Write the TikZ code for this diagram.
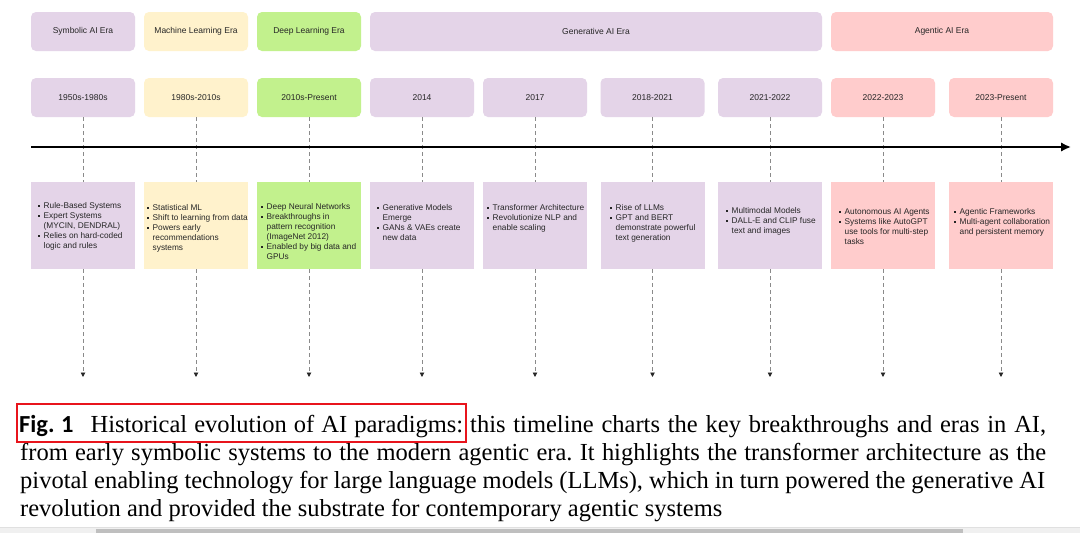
\documentclass[tikz,border=0pt]{standalone}
\usepackage{fontspec}
\setmainfont{Liberation Serif}
\setsansfont{Liberation Sans}
\newfontfamily\capsans{Carlito}
\usetikzlibrary{arrows.meta}
\frenchspacing
\definecolor{cpur}{HTML}{E4D4E8}
\definecolor{cyel}{HTML}{FFF2CC}
\definecolor{cgrn}{HTML}{C2F18D}
\definecolor{cpnk}{HTML}{FFCCCC}
\definecolor{txt}{HTML}{262626}
\definecolor{dgrey}{HTML}{8A8A8A}
\definecolor{capred}{HTML}{E8141C}
\newcommand{\blt}{\raisebox{1.5pt}{\rule{1.8pt}{1.8pt}}}
\newcommand{\itemtab}[1]{\begin{tabular}[t]{@{}p{5.5pt}@{}l@{}}#1\end{tabular}}
\begin{document}
\begin{tikzpicture}[x=1pt,y=-1pt,
  hdr/.style={rounded corners=5pt, draw=none, text=txt, inner sep=0,
    font=\sffamily\fontsize{8.5}{10}\selectfont, minimum height=39pt},
  cbox/.style={draw=none, inner sep=0, minimum height=87pt, minimum width=104pt},
  ctext/.style={anchor=base west, inner sep=0, text=txt, font=\sffamily\fontsize{8.3}{10}\selectfont},
  conn/.style={draw=dgrey, line width=0.9pt, dash pattern=on 3.5pt off 3.5pt},
  connarr/.style={conn, -{Triangle[length=4.5pt,width=4.5pt,color=black!85]}},
  captxt/.style={anchor=base west, inner sep=0, text=black, font=\fontsize{24.5}{28.3}\selectfont}
]
\useasboundingbox (0,0) rectangle (1080,533);
\fill[white] (0,0) rectangle (1080,533);

% era row
\node[hdr, fill=cpur, minimum width=104pt] (era1) at (83,31.5) {Symbolic AI Era};
\node[hdr, fill=cyel, minimum width=104pt] (era2) at (196,31.5) {Machine Learning Era};
\node[hdr, fill=cgrn, minimum width=104pt] (era3) at (309,31.5) {Deep Learning Era};
\node[hdr, fill=cpur, minimum width=452pt] (era4) at (596,31.5) {Generative AI Era};
\node[hdr, fill=cpnk, minimum width=222pt] (era5) at (942,31.5) {Agentic AI Era};

% date row
\node[hdr, fill=cpur, minimum width=104pt] (d1) at (83,97.5) {1950s-1980s};
\node[hdr, fill=cyel, minimum width=104pt] (d2) at (196,97.5) {1980s-2010s};
\node[hdr, fill=cgrn, minimum width=104pt] (d3) at (309,97.5) {2010s-Present};
\node[hdr, fill=cpur, minimum width=104pt] (d4) at (422,97.5) {2014};
\node[hdr, fill=cpur, minimum width=104pt] (d5) at (535,97.5) {2017};
\node[hdr, fill=cpur, minimum width=104pt] (d6) at (652.5,97.5) {2018-2021};
\node[hdr, fill=cpur, minimum width=104pt] (d7) at (770,97.5) {2021-2022};
\node[hdr, fill=cpnk, minimum width=104pt] (d8) at (883,97.5) {2022-2023};
\node[hdr, fill=cpnk, minimum width=104pt] (d9) at (1001,97.5) {2023-Present};

% content boxes
\node[cbox, fill=cpur] (c1) at (83,225.5) {};
\node[cbox, fill=cyel] (c2) at (196,225.5) {};
\node[cbox, fill=cgrn] (c3) at (309,225.5) {};
\node[cbox, fill=cpur] (c4) at (422,225.5) {};
\node[cbox, fill=cpur] (c5) at (535,225.5) {};
\node[cbox, fill=cpur] (c6) at (652.5,225.5) {};
\node[cbox, fill=cpur] (c7) at (770,225.5) {};
\node[cbox, fill=cpnk] (c8) at (883,225.5) {};
\node[cbox, fill=cpnk] (c9) at (1001,225.5) {};

% content texts
\node[ctext] (t1) at (38,208) {\itemtab{\blt & Rule-Based Systems\\ \blt & Expert Systems\\ & (MYCIN, DENDRAL)\\ \blt & Relies on hard-coded\\ & logic and rules}};
\node[ctext] (t2) at (147,210) {\itemtab{\blt & Statistical ML\\ \blt & Shift to learning from data\\ \blt & Powers early\\ & recommendations\\ & systems}};
\node[ctext] (t3) at (261,209) {\itemtab{\blt & Deep Neural Networks\\ \blt & Breakthroughs in\\ & pattern recognition\\ & (ImageNet 2012)\\ \blt & Enabled by big data and\\ & GPUs}};
\node[ctext] (t4) at (377,210) {\itemtab{\blt & Generative Models\\ & Emerge\\ \blt & GANs \& VAEs create\\ & new data}};
\node[ctext] (t5) at (487,210) {\itemtab{\blt & Transformer Architecture\\ \blt & Revolutionize NLP and\\ & enable scaling}};
\node[ctext] (t6) at (610,210) {\itemtab{\blt & Rise of LLMs\\ \blt & GPT and BERT\\ & demonstrate powerful\\ & text generation}};
\node[ctext] (t7) at (726,213) {\itemtab{\blt & Multimodal Models\\ \blt & DALL-E and CLIP fuse\\ & text and images}};
\node[ctext] (t8) at (839,214) {\itemtab{\blt & Autonomous AI Agents\\ \blt & Systems like AutoGPT\\ & use tools for multi-step\\ & tasks}};
\node[ctext] (t9) at (954,214) {\itemtab{\blt & Agentic Frameworks\\ \blt & Multi-agent collaboration\\ & and persistent memory}};

% connector end points
\foreach \i/\x in {1/83,2/196,3/309,4/422,5/535,6/652.5,7/770,8/883,9/1001}{
  \coordinate (b\i) at (\x,377);
}
% dashed connectors
\foreach \i in {1,...,9}{
  \draw[conn] (d\i.south) -- (c\i.north);
  \draw[connarr] (c\i.south) -- (b\i);
}

% timeline axis
\coordinate (tl0) at (31,147);
\coordinate (tl1) at (1071,147);
\draw[line width=2.3pt, -{Latex[length=10pt,width=9.5pt]}] (tl0) -- (tl1);

% caption
\node[captxt] (cap1a) at (19,432) {\makebox[444pt][s]{{\capsans\bfseries Fig.\ 1}\hspace{0.7em}Historical evolution of AI paradigms:}};
\node[captxt] (cap1b) at (470,432) {\makebox[576pt][s]{this timeline charts the key breakthroughs and eras in AI,}};
\node[captxt] (cap2) at (20,460.3) {\makebox[1026pt][s]{from early symbolic systems to the modern agentic era. It highlights the transformer architecture as the}};
\node[captxt] (cap3) at (20,488.6) {\makebox[1025pt][s]{pivotal enabling technology for large language models (LLMs), which in turn powered the generative AI}};
\node[captxt] (cap4) at (20,516.9) {revolution and provided the substrate for contemporary agentic systems};
\draw[capred, line width=2pt] (17,403.5) rectangle (466,442);

% bottom scroll strip
\fill[black!6] (0,527) rectangle (1080,533);
\draw[black!12, line width=0.6pt] (0,527) -- (1080,527);
\fill[black!25] (96,529) rectangle (963,533);
\end{tikzpicture}
\end{document}
